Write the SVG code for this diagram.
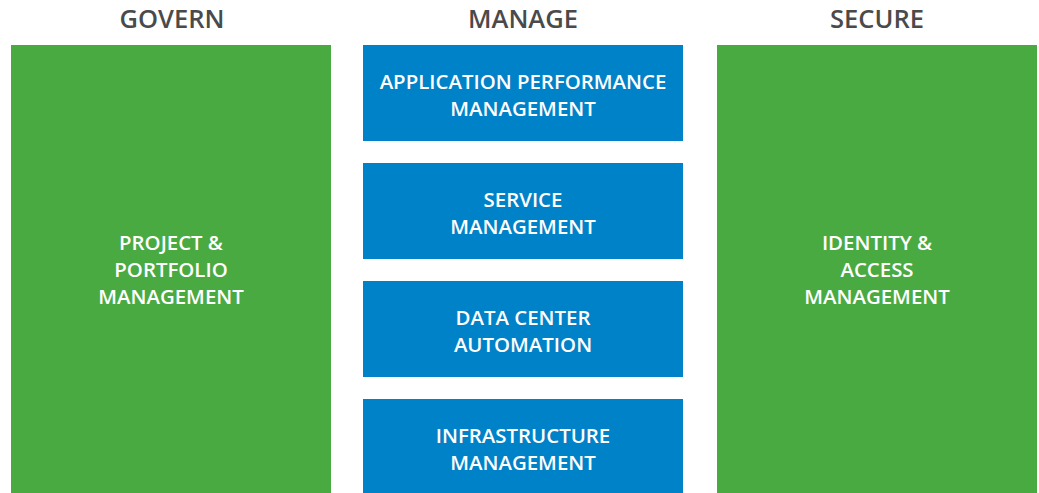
<svg xmlns="http://www.w3.org/2000/svg" width="1039" height="493" viewBox="0 0 1039 493">
  <style>
    .head { font-family: "Open Sans", "Liberation Sans", sans-serif; font-weight: 600; font-size: 25.5px; fill: #4a4a4b; text-anchor: middle; }
    .lbl { font-family: "Open Sans", "Liberation Sans", sans-serif; font-weight: 600; font-size: 20.4px; fill: #ffffff; text-anchor: middle; }
    .green { fill: #4aaa42; }
    .blue { fill: #0082c8; }
  </style>
  <rect width="1039" height="493" fill="#ffffff"/>

  <!-- column headings -->
  <text class="head" x="172" y="28">GOVERN</text>
  <text class="head" x="523" y="28">MANAGE</text>
  <text class="head" x="877" y="28">SECURE</text>

  <g id="govern">
    <rect class="green" x="11" y="45" width="320" height="448"/>
    <text class="lbl" x="171" y="250">PROJECT &amp;</text>
    <text class="lbl" x="171" y="277">PORTFOLIO</text>
    <text class="lbl" x="171" y="304">MANAGEMENT</text>
  </g>

  <g id="apm">
    <rect class="blue" x="363" y="45" width="320" height="96"/>
    <text class="lbl" x="523" y="89">APPLICATION PERFORMANCE</text>
    <text class="lbl" x="523" y="116">MANAGEMENT</text>
  </g>

  <g id="service">
    <rect class="blue" x="363" y="163" width="320" height="96"/>
    <text class="lbl" x="523" y="207">SERVICE</text>
    <text class="lbl" x="523" y="234">MANAGEMENT</text>
  </g>

  <g id="datacenter">
    <rect class="blue" x="363" y="281" width="320" height="96"/>
    <text class="lbl" x="523" y="325">DATA CENTER</text>
    <text class="lbl" x="523" y="352">AUTOMATION</text>
  </g>

  <g id="infrastructure">
    <rect class="blue" x="363" y="399" width="320" height="94"/>
    <text class="lbl" x="523" y="443">INFRASTRUCTURE</text>
    <text class="lbl" x="523" y="470">MANAGEMENT</text>
  </g>

  <g id="secure">
    <rect class="green" x="717" y="45" width="320" height="448"/>
    <text class="lbl" x="877" y="250">IDENTITY &amp;</text>
    <text class="lbl" x="877" y="277">ACCESS</text>
    <text class="lbl" x="877" y="304">MANAGEMENT</text>
  </g>

  <!-- no connectors in this layout -->
  <g id="connectors"/>
</svg>
